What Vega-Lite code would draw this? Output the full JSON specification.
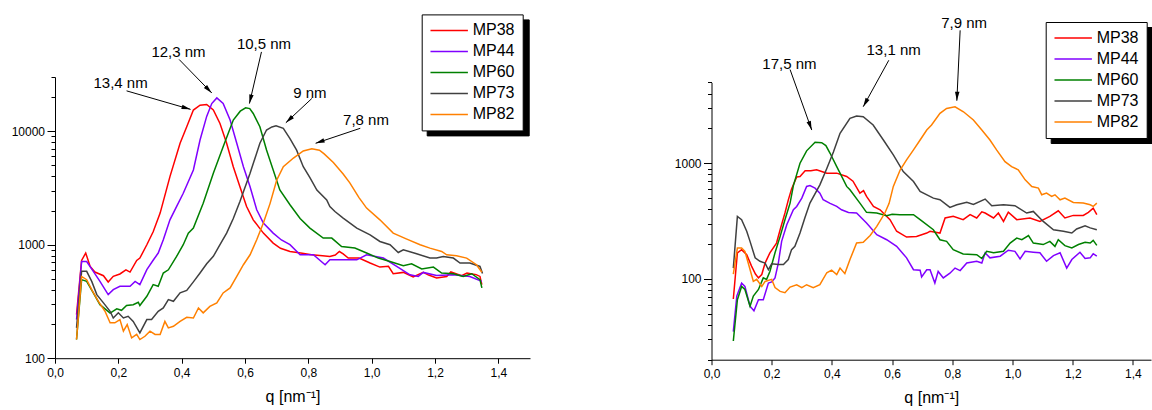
{
  "$schema": "https://vega.github.io/schema/vega-lite/v6.json",
  "background": "white",
  "padding": {"left": 11, "top": 13, "right": 0, "bottom": 0},
  "bounds": "flush",
  "spacing": 181.5,
  "config": {
    "font": "Liberation Sans",
    "view": {"stroke": null},
    "axis": {"domainColor": "black", "tickColor": "black", "labelColor": "black", "titleColor": "black", "grid": false, "labelFont": "Liberation Sans", "titleFont": "Liberation Sans", "labelFontSize": 12, "titleFontSize": 16, "titleFontWeight": "normal"},
    "legend": {"labelFont": "Liberation Sans"}
  },
  "resolve": {"scale": {"x": "independent", "y": "independent", "color": "independent", "opacity": "independent"}, "legend": {"color": "independent", "opacity": "independent"}},
  "datasets": {
    "L": [
      {"s":"MP38","q":0.068,"I":242},{"s":"MP38","q":0.084,"I":727},{"s":"MP38","q":0.097,"I":844},{"s":"MP38","q":0.111,"I":643},{"s":"MP38","q":0.126,"I":574},{"s":"MP38","q":0.153,"I":533},{"s":"MP38","q":0.168,"I":469},{"s":"MP38","q":0.184,"I":526},{"s":"MP38","q":0.205,"I":552},{"s":"MP38","q":0.224,"I":601},{"s":"MP38","q":0.237,"I":574},{"s":"MP38","q":0.258,"I":727},{"s":"MP38","q":0.268,"I":762},{"s":"MP38","q":0.29,"I":998},{"s":"MP38","q":0.31,"I":1300},{"s":"MP38","q":0.332,"I":1897},{"s":"MP38","q":0.363,"I":3980},{"s":"MP38","q":0.395,"I":7820},{"s":"MP38","q":0.416,"I":10940},{"s":"MP38","q":0.437,"I":15350},{"s":"MP38","q":0.458,"I":16950},{"s":"MP38","q":0.479,"I":17180},{"s":"MP38","q":0.5,"I":15350},{"s":"MP38","q":0.521,"I":11690},{"s":"MP38","q":0.542,"I":7820},{"s":"MP38","q":0.563,"I":4860},{"s":"MP38","q":0.584,"I":3240},{"s":"MP38","q":0.605,"I":2170},{"s":"MP38","q":0.626,"I":1655},{"s":"MP38","q":0.658,"I":1265},{"s":"MP38","q":0.689,"I":1033},{"s":"MP38","q":0.712,"I":930},{"s":"MP38","q":0.742,"I":871},{"s":"MP38","q":0.776,"I":845},{"s":"MP38","q":0.81,"I":817},{"s":"MP38","q":0.845,"I":800},{"s":"MP38","q":0.868,"I":787},{"s":"MP38","q":0.885,"I":810},{"s":"MP38","q":0.898,"I":871},{"s":"MP38","q":0.91,"I":830},{"s":"MP38","q":0.926,"I":762},{"s":"MP38","q":0.96,"I":764},{"s":"MP38","q":0.995,"I":689},{"s":"MP38","q":1.026,"I":635},{"s":"MP38","q":1.053,"I":644},{"s":"MP38","q":1.068,"I":555},{"s":"MP38","q":1.1,"I":570},{"s":"MP38","q":1.131,"I":519},{"s":"MP38","q":1.163,"I":570},{"s":"MP38","q":1.18,"I":540},{"s":"MP38","q":1.205,"I":508},{"s":"MP38","q":1.237,"I":525},{"s":"MP38","q":1.25,"I":575},{"s":"MP38","q":1.284,"I":533},{"s":"MP38","q":1.301,"I":563},{"s":"MP38","q":1.33,"I":545},{"s":"MP38","q":1.342,"I":525},{"s":"MP38","q":1.348,"I":445},
      {"s":"MP44","q":0.068,"I":219},{"s":"MP44","q":0.084,"I":711},{"s":"MP44","q":0.1,"I":711},{"s":"MP44","q":0.121,"I":582},{"s":"MP44","q":0.142,"I":475},{"s":"MP44","q":0.168,"I":363},{"s":"MP44","q":0.184,"I":402},{"s":"MP44","q":0.205,"I":430},{"s":"MP44","q":0.237,"I":430},{"s":"MP44","q":0.253,"I":475},{"s":"MP44","q":0.268,"I":445},{"s":"MP44","q":0.29,"I":603},{"s":"MP44","q":0.311,"I":736},{"s":"MP44","q":0.326,"I":844},{"s":"MP44","q":0.342,"I":1104},{"s":"MP44","q":0.363,"I":1656},{"s":"MP44","q":0.385,"I":2200},{"s":"MP44","q":0.405,"I":2840},{"s":"MP44","q":0.437,"I":4550},{"s":"MP44","q":0.458,"I":8360},{"s":"MP44","q":0.479,"I":13500},{"s":"MP44","q":0.495,"I":17500},{"s":"MP44","q":0.511,"I":19630},{"s":"MP44","q":0.531,"I":17540},{"s":"MP44","q":0.553,"I":12530},{"s":"MP44","q":0.574,"I":7820},{"s":"MP44","q":0.595,"I":4860},{"s":"MP44","q":0.616,"I":3240},{"s":"MP44","q":0.637,"I":2030},{"s":"MP44","q":0.658,"I":1549},{"s":"MP44","q":0.689,"I":1265},{"s":"MP44","q":0.715,"I":1100},{"s":"MP44","q":0.742,"I":1000},{"s":"MP44","q":0.774,"I":815},{"s":"MP44","q":0.816,"I":815},{"s":"MP44","q":0.853,"I":666},{"s":"MP44","q":0.868,"I":736},{"s":"MP44","q":0.953,"I":736},{"s":"MP44","q":0.984,"I":815},{"s":"MP44","q":1.037,"I":762},{"s":"MP44","q":1.079,"I":643},{"s":"MP44","q":1.121,"I":543},{"s":"MP44","q":1.147,"I":525},{"s":"MP44","q":1.163,"I":570},{"s":"MP44","q":1.205,"I":536},{"s":"MP44","q":1.258,"I":543},{"s":"MP44","q":1.31,"I":525},{"s":"MP44","q":1.348,"I":475},
      {"s":"MP60","q":0.068,"I":146},{"s":"MP60","q":0.084,"I":492},{"s":"MP60","q":0.1,"I":475},{"s":"MP60","q":0.121,"I":376},{"s":"MP60","q":0.142,"I":296},{"s":"MP60","q":0.174,"I":250},{"s":"MP60","q":0.195,"I":272},{"s":"MP60","q":0.21,"I":264},{"s":"MP60","q":0.226,"I":291},{"s":"MP60","q":0.247,"I":296},{"s":"MP60","q":0.263,"I":311},{"s":"MP60","q":0.268,"I":291},{"s":"MP60","q":0.29,"I":351},{"s":"MP60","q":0.31,"I":445},{"s":"MP60","q":0.326,"I":430},{"s":"MP60","q":0.342,"I":563},{"s":"MP60","q":0.358,"I":601},{"s":"MP60","q":0.384,"I":788},{"s":"MP60","q":0.405,"I":1000},{"s":"MP60","q":0.421,"I":1265},{"s":"MP60","q":0.437,"I":1400},{"s":"MP60","q":0.468,"I":2320},{"s":"MP60","q":0.5,"I":4250},{"s":"MP60","q":0.531,"I":7300},{"s":"MP60","q":0.563,"I":12530},{"s":"MP60","q":0.585,"I":15000},{"s":"MP60","q":0.602,"I":16070},{"s":"MP60","q":0.615,"I":15800},{"s":"MP60","q":0.626,"I":14320},{"s":"MP60","q":0.647,"I":10940},{"s":"MP60","q":0.668,"I":6820},{"s":"MP60","q":0.689,"I":4550},{"s":"MP60","q":0.71,"I":3030},{"s":"MP60","q":0.742,"I":2250},{"s":"MP60","q":0.774,"I":1700},{"s":"MP60","q":0.805,"I":1400},{"s":"MP60","q":0.847,"I":1143},{"s":"MP60","q":0.874,"I":1143},{"s":"MP60","q":0.905,"I":964},{"s":"MP60","q":0.947,"I":933},{"s":"MP60","q":0.984,"I":844},{"s":"MP60","q":1.021,"I":762},{"s":"MP60","q":1.058,"I":711},{"s":"MP60","q":1.1,"I":653},{"s":"MP60","q":1.126,"I":679},{"s":"MP60","q":1.158,"I":611},{"s":"MP60","q":1.195,"I":635},{"s":"MP60","q":1.221,"I":563},{"s":"MP60","q":1.258,"I":555},{"s":"MP60","q":1.289,"I":525},{"s":"MP60","q":1.316,"I":555},{"s":"MP60","q":1.342,"I":492},{"s":"MP60","q":1.348,"I":416},
      {"s":"MP73","q":0.068,"I":185},{"s":"MP73","q":0.084,"I":582},{"s":"MP73","q":0.1,"I":582},{"s":"MP73","q":0.116,"I":475},{"s":"MP73","q":0.132,"I":363},{"s":"MP73","q":0.153,"I":307},{"s":"MP73","q":0.174,"I":259},{"s":"MP73","q":0.184,"I":226},{"s":"MP73","q":0.2,"I":251},{"s":"MP73","q":0.216,"I":226},{"s":"MP73","q":0.231,"I":234},{"s":"MP73","q":0.247,"I":211},{"s":"MP73","q":0.268,"I":167},{"s":"MP73","q":0.29,"I":219},{"s":"MP73","q":0.305,"I":219},{"s":"MP73","q":0.326,"I":259},{"s":"MP73","q":0.342,"I":277},{"s":"MP73","q":0.358,"I":328},{"s":"MP73","q":0.374,"I":317},{"s":"MP73","q":0.395,"I":376},{"s":"MP73","q":0.416,"I":395},{"s":"MP73","q":0.437,"I":470},{"s":"MP73","q":0.458,"I":563},{"s":"MP73","q":0.479,"I":680},{"s":"MP73","q":0.5,"I":790},{"s":"MP73","q":0.521,"I":1000},{"s":"MP73","q":0.542,"I":1265},{"s":"MP73","q":0.563,"I":1700},{"s":"MP73","q":0.584,"I":2400},{"s":"MP73","q":0.616,"I":4250},{"s":"MP73","q":0.647,"I":7820},{"s":"MP73","q":0.668,"I":10240},{"s":"MP73","q":0.685,"I":10900},{"s":"MP73","q":0.698,"I":11150},{"s":"MP73","q":0.721,"I":10590},{"s":"MP73","q":0.742,"I":8600},{"s":"MP73","q":0.763,"I":6800},{"s":"MP73","q":0.784,"I":4860},{"s":"MP73","q":0.805,"I":3900},{"s":"MP73","q":0.827,"I":3030},{"s":"MP73","q":0.858,"I":2480},{"s":"MP73","q":0.868,"I":2170},{"s":"MP73","q":0.884,"I":1960},{"s":"MP73","q":0.91,"I":1714},{"s":"MP73","q":0.953,"I":1400},{"s":"MP73","q":0.995,"I":1222},{"s":"MP73","q":1.026,"I":1067},{"s":"MP73","q":1.058,"I":998},{"s":"MP73","q":1.084,"I":853},{"s":"MP73","q":1.1,"I":902},{"s":"MP73","q":1.142,"I":832},{"s":"MP73","q":1.184,"I":762},{"s":"MP73","q":1.205,"I":762},{"s":"MP73","q":1.226,"I":788},{"s":"MP73","q":1.258,"I":762},{"s":"MP73","q":1.279,"I":689},{"s":"MP73","q":1.31,"I":689},{"s":"MP73","q":1.342,"I":643},{"s":"MP73","q":1.35,"I":556},
      {"s":"MP82","q":0.068,"I":146},{"s":"MP82","q":0.084,"I":525},{"s":"MP82","q":0.1,"I":492},{"s":"MP82","q":0.116,"I":402},{"s":"MP82","q":0.137,"I":317},{"s":"MP82","q":0.158,"I":259},{"s":"MP82","q":0.174,"I":205},{"s":"MP82","q":0.189,"I":205},{"s":"MP82","q":0.205,"I":219},{"s":"MP82","q":0.216,"I":173},{"s":"MP82","q":0.228,"I":198},{"s":"MP82","q":0.242,"I":151},{"s":"MP82","q":0.258,"I":162},{"s":"MP82","q":0.268,"I":146},{"s":"MP82","q":0.284,"I":156},{"s":"MP82","q":0.3,"I":173},{"s":"MP82","q":0.316,"I":162},{"s":"MP82","q":0.332,"I":162},{"s":"MP82","q":0.347,"I":211},{"s":"MP82","q":0.358,"I":185},{"s":"MP82","q":0.374,"I":191},{"s":"MP82","q":0.395,"I":211},{"s":"MP82","q":0.416,"I":229},{"s":"MP82","q":0.437,"I":226},{"s":"MP82","q":0.453,"I":277},{"s":"MP82","q":0.468,"I":251},{"s":"MP82","q":0.489,"I":286},{"s":"MP82","q":0.511,"I":307},{"s":"MP82","q":0.531,"I":376},{"s":"MP82","q":0.553,"I":416},{"s":"MP82","q":0.574,"I":525},{"s":"MP82","q":0.595,"I":666},{"s":"MP82","q":0.616,"I":815},{"s":"MP82","q":0.637,"I":1104},{"s":"MP82","q":0.658,"I":1549},{"s":"MP82","q":0.679,"I":2300},{"s":"MP82","q":0.7,"I":3700},{"s":"MP82","q":0.721,"I":4860},{"s":"MP82","q":0.753,"I":5800},{"s":"MP82","q":0.784,"I":6700},{"s":"MP82","q":0.811,"I":7000},{"s":"MP82","q":0.835,"I":6800},{"s":"MP82","q":0.85,"I":6300},{"s":"MP82","q":0.879,"I":5300},{"s":"MP82","q":0.91,"I":4200},{"s":"MP82","q":0.931,"I":3500},{"s":"MP82","q":0.96,"I":2600},{"s":"MP82","q":0.984,"I":2100},{"s":"MP82","q":1.026,"I":1655},{"s":"MP82","q":1.068,"I":1265},{"s":"MP82","q":1.111,"I":1120},{"s":"MP82","q":1.153,"I":998},{"s":"MP82","q":1.184,"I":933},{"s":"MP82","q":1.221,"I":871},{"s":"MP82","q":1.237,"I":815},{"s":"MP82","q":1.268,"I":798},{"s":"MP82","q":1.3,"I":762},{"s":"MP82","q":1.331,"I":666},{"s":"MP82","q":1.348,"I":571}
    ],
    "R": [
      {"s":"MP38","q":0.0725,"I":67},{"s":"MP38","q":0.086,"I":168},{"s":"MP38","q":0.1,"I":179},{"s":"MP38","q":0.117,"I":162},{"s":"MP38","q":0.133,"I":129},{"s":"MP38","q":0.146,"I":110},{"s":"MP38","q":0.156,"I":102},{"s":"MP38","q":0.167,"I":109},{"s":"MP38","q":0.178,"I":137},{"s":"MP38","q":0.194,"I":168},{"s":"MP38","q":0.216,"I":204},{"s":"MP38","q":0.228,"I":266},{"s":"MP38","q":0.244,"I":371},{"s":"MP38","q":0.255,"I":480},{"s":"MP38","q":0.266,"I":600},{"s":"MP38","q":0.283,"I":760},{"s":"MP38","q":0.294,"I":768},{"s":"MP38","q":0.311,"I":859},{"s":"MP38","q":0.33,"I":860},{"s":"MP38","q":0.349,"I":877},{"s":"MP38","q":0.366,"I":848},{"s":"MP38","q":0.383,"I":821},{"s":"MP38","q":0.416,"I":821},{"s":"MP38","q":0.449,"I":768},{"s":"MP38","q":0.47,"I":700},{"s":"MP38","q":0.493,"I":551},{"s":"MP38","q":0.505,"I":580},{"s":"MP38","q":0.515,"I":516},{"s":"MP38","q":0.538,"I":423},{"s":"MP38","q":0.56,"I":396},{"s":"MP38","q":0.593,"I":325},{"s":"MP38","q":0.615,"I":258},{"s":"MP38","q":0.648,"I":230},{"s":"MP38","q":0.681,"I":233},{"s":"MP38","q":0.715,"I":249},{"s":"MP38","q":0.726,"I":258},{"s":"MP38","q":0.759,"I":249},{"s":"MP38","q":0.776,"I":336},{"s":"MP38","q":0.803,"I":347},{"s":"MP38","q":0.836,"I":325},{"s":"MP38","q":0.859,"I":359},{"s":"MP38","q":0.881,"I":336},{"s":"MP38","q":0.898,"I":380},{"s":"MP38","q":0.909,"I":371},{"s":"MP38","q":0.937,"I":336},{"s":"MP38","q":0.953,"I":371},{"s":"MP38","q":0.97,"I":314},{"s":"MP38","q":0.986,"I":378},{"s":"MP38","q":1.014,"I":325},{"s":"MP38","q":1.058,"I":336},{"s":"MP38","q":1.091,"I":314},{"s":"MP38","q":1.124,"I":347},{"s":"MP38","q":1.152,"I":388},{"s":"MP38","q":1.174,"I":336},{"s":"MP38","q":1.202,"I":354},{"s":"MP38","q":1.235,"I":354},{"s":"MP38","q":1.252,"I":376},{"s":"MP38","q":1.268,"I":409},{"s":"MP38","q":1.28,"I":359},
      {"s":"MP44","q":0.0725,"I":35},{"s":"MP44","q":0.084,"I":71},{"s":"MP44","q":0.1,"I":92},{"s":"MP44","q":0.111,"I":86},{"s":"MP44","q":0.128,"I":58},{"s":"MP44","q":0.141,"I":53},{"s":"MP44","q":0.156,"I":66},{"s":"MP44","q":0.172,"I":66},{"s":"MP44","q":0.189,"I":92},{"s":"MP44","q":0.2,"I":94},{"s":"MP44","q":0.211,"I":102},{"s":"MP44","q":0.222,"I":137},{"s":"MP44","q":0.233,"I":211},{"s":"MP44","q":0.25,"I":294},{"s":"MP44","q":0.272,"I":396},{"s":"MP44","q":0.283,"I":423},{"s":"MP44","q":0.3,"I":499},{"s":"MP44","q":0.316,"I":630},{"s":"MP44","q":0.327,"I":640},{"s":"MP44","q":0.344,"I":609},{"s":"MP44","q":0.36,"I":551},{"s":"MP44","q":0.371,"I":483},{"s":"MP44","q":0.394,"I":450},{"s":"MP44","q":0.416,"I":423},{"s":"MP44","q":0.432,"I":396},{"s":"MP44","q":0.455,"I":375},{"s":"MP44","q":0.482,"I":371},{"s":"MP44","q":0.515,"I":304},{"s":"MP44","q":0.549,"I":241},{"s":"MP44","q":0.582,"I":218},{"s":"MP44","q":0.615,"I":191},{"s":"MP44","q":0.648,"I":152},{"s":"MP44","q":0.671,"I":120},{"s":"MP44","q":0.693,"I":119},{"s":"MP44","q":0.698,"I":104},{"s":"MP44","q":0.715,"I":120},{"s":"MP44","q":0.726,"I":120},{"s":"MP44","q":0.742,"I":92},{"s":"MP44","q":0.753,"I":116},{"s":"MP44","q":0.77,"I":102},{"s":"MP44","q":0.792,"I":112},{"s":"MP44","q":0.809,"I":124},{"s":"MP44","q":0.826,"I":118},{"s":"MP44","q":0.848,"I":137},{"s":"MP44","q":0.881,"I":142},{"s":"MP44","q":0.898,"I":137},{"s":"MP44","q":0.909,"I":168},{"s":"MP44","q":0.925,"I":152},{"s":"MP44","q":0.959,"I":157},{"s":"MP44","q":0.986,"I":177},{"s":"MP44","q":1.008,"I":173},{"s":"MP44","q":1.025,"I":149},{"s":"MP44","q":1.042,"I":173},{"s":"MP44","q":1.069,"I":170},{"s":"MP44","q":1.091,"I":168},{"s":"MP44","q":1.113,"I":142},{"s":"MP44","q":1.136,"I":159},{"s":"MP44","q":1.158,"I":168},{"s":"MP44","q":1.18,"I":124},{"s":"MP44","q":1.197,"I":147},{"s":"MP44","q":1.224,"I":170},{"s":"MP44","q":1.241,"I":150},{"s":"MP44","q":1.258,"I":152},{"s":"MP44","q":1.268,"I":165},{"s":"MP44","q":1.28,"I":157},
      {"s":"MP60","q":0.0725,"I":29},{"s":"MP60","q":0.086,"I":66},{"s":"MP60","q":0.1,"I":86},{"s":"MP60","q":0.111,"I":81},{"s":"MP60","q":0.128,"I":58},{"s":"MP60","q":0.139,"I":71},{"s":"MP60","q":0.156,"I":81},{"s":"MP60","q":0.172,"I":102},{"s":"MP60","q":0.183,"I":99},{"s":"MP60","q":0.194,"I":116},{"s":"MP60","q":0.211,"I":168},{"s":"MP60","q":0.228,"I":233},{"s":"MP60","q":0.244,"I":325},{"s":"MP60","q":0.261,"I":452},{"s":"MP60","q":0.272,"I":640},{"s":"MP60","q":0.294,"I":1000},{"s":"MP60","q":0.316,"I":1280},{"s":"MP60","q":0.344,"I":1520},{"s":"MP60","q":0.366,"I":1507},{"s":"MP60","q":0.38,"I":1420},{"s":"MP60","q":0.394,"I":1219},{"s":"MP60","q":0.416,"I":935},{"s":"MP60","q":0.427,"I":820},{"s":"MP60","q":0.449,"I":630},{"s":"MP60","q":0.46,"I":589},{"s":"MP60","q":0.493,"I":452},{"s":"MP60","q":0.515,"I":376},{"s":"MP60","q":0.549,"I":371},{"s":"MP60","q":0.582,"I":352},{"s":"MP60","q":0.6,"I":362},{"s":"MP60","q":0.626,"I":359},{"s":"MP60","q":0.671,"I":359},{"s":"MP60","q":0.693,"I":325},{"s":"MP60","q":0.737,"I":266},{"s":"MP60","q":0.759,"I":218},{"s":"MP60","q":0.781,"I":211},{"s":"MP60","q":0.803,"I":179},{"s":"MP60","q":0.836,"I":164},{"s":"MP60","q":0.881,"I":162},{"s":"MP60","q":0.898,"I":150},{"s":"MP60","q":0.914,"I":173},{"s":"MP60","q":0.937,"I":168},{"s":"MP60","q":0.97,"I":173},{"s":"MP60","q":0.992,"I":204},{"s":"MP60","q":1.014,"I":225},{"s":"MP60","q":1.031,"I":218},{"s":"MP60","q":1.053,"I":237},{"s":"MP60","q":1.069,"I":204},{"s":"MP60","q":1.102,"I":198},{"s":"MP60","q":1.124,"I":211},{"s":"MP60","q":1.141,"I":191},{"s":"MP60","q":1.152,"I":218},{"s":"MP60","q":1.174,"I":194},{"s":"MP60","q":1.197,"I":185},{"s":"MP60","q":1.219,"I":198},{"s":"MP60","q":1.241,"I":207},{"s":"MP60","q":1.258,"I":204},{"s":"MP60","q":1.268,"I":215},{"s":"MP60","q":1.28,"I":195},
      {"s":"MP73","q":0.0725,"I":124},{"s":"MP73","q":0.086,"I":347},{"s":"MP73","q":0.1,"I":325},{"s":"MP73","q":0.117,"I":258},{"s":"MP73","q":0.128,"I":211},{"s":"MP73","q":0.145,"I":152},{"s":"MP73","q":0.161,"I":142},{"s":"MP73","q":0.178,"I":137},{"s":"MP73","q":0.189,"I":120},{"s":"MP73","q":0.2,"I":135},{"s":"MP73","q":0.222,"I":133},{"s":"MP73","q":0.239,"I":133},{"s":"MP73","q":0.255,"I":147},{"s":"MP73","q":0.266,"I":179},{"s":"MP73","q":0.277,"I":191},{"s":"MP73","q":0.294,"I":249},{"s":"MP73","q":0.31,"I":336},{"s":"MP73","q":0.327,"I":452},{"s":"MP73","q":0.36,"I":650},{"s":"MP73","q":0.383,"I":900},{"s":"MP73","q":0.405,"I":1250},{"s":"MP73","q":0.427,"I":1815},{"s":"MP73","q":0.46,"I":2445},{"s":"MP73","q":0.482,"I":2560},{"s":"MP73","q":0.504,"I":2525},{"s":"MP73","q":0.537,"I":2140},{"s":"MP73","q":0.571,"I":1588},{"s":"MP73","q":0.604,"I":1180},{"s":"MP73","q":0.637,"I":847},{"s":"MP73","q":0.671,"I":695},{"s":"MP73","q":0.693,"I":570},{"s":"MP73","q":0.737,"I":499},{"s":"MP73","q":0.759,"I":483},{"s":"MP73","q":0.792,"I":415},{"s":"MP73","q":0.815,"I":437},{"s":"MP73","q":0.848,"I":460},{"s":"MP73","q":0.87,"I":441},{"s":"MP73","q":0.909,"I":490},{"s":"MP73","q":0.931,"I":429},{"s":"MP73","q":0.97,"I":437},{"s":"MP73","q":1.008,"I":429},{"s":"MP73","q":1.047,"I":371},{"s":"MP73","q":1.069,"I":383},{"s":"MP73","q":1.102,"I":314},{"s":"MP73","q":1.136,"I":266},{"s":"MP73","q":1.169,"I":258},{"s":"MP73","q":1.197,"I":249},{"s":"MP73","q":1.213,"I":270},{"s":"MP73","q":1.241,"I":288},{"s":"MP73","q":1.258,"I":276},{"s":"MP73","q":1.28,"I":266},
      {"s":"MP82","q":0.0725,"I":110},{"s":"MP82","q":0.086,"I":185},{"s":"MP82","q":0.1,"I":185},{"s":"MP82","q":0.111,"I":173},{"s":"MP82","q":0.122,"I":137},{"s":"MP82","q":0.139,"I":95},{"s":"MP82","q":0.15,"I":99},{"s":"MP82","q":0.167,"I":86},{"s":"MP82","q":0.178,"I":95},{"s":"MP82","q":0.2,"I":99},{"s":"MP82","q":0.211,"I":84},{"s":"MP82","q":0.228,"I":78},{"s":"MP82","q":0.244,"I":76},{"s":"MP82","q":0.261,"I":85},{"s":"MP82","q":0.283,"I":89},{"s":"MP82","q":0.3,"I":84},{"s":"MP82","q":0.316,"I":89},{"s":"MP82","q":0.338,"I":84},{"s":"MP82","q":0.36,"I":89},{"s":"MP82","q":0.383,"I":113},{"s":"MP82","q":0.399,"I":119},{"s":"MP82","q":0.416,"I":109},{"s":"MP82","q":0.427,"I":124},{"s":"MP82","q":0.443,"I":111},{"s":"MP82","q":0.46,"I":147},{"s":"MP82","q":0.482,"I":204},{"s":"MP82","q":0.504,"I":207},{"s":"MP82","q":0.527,"I":237},{"s":"MP82","q":0.549,"I":284},{"s":"MP82","q":0.576,"I":371},{"s":"MP82","q":0.59,"I":450},{"s":"MP82","q":0.604,"I":630},{"s":"MP82","q":0.627,"I":877},{"s":"MP82","q":0.648,"I":1069},{"s":"MP82","q":0.671,"I":1303},{"s":"MP82","q":0.693,"I":1589},{"s":"MP82","q":0.715,"I":1936},{"s":"MP82","q":0.731,"I":2140},{"s":"MP82","q":0.759,"I":2697},{"s":"MP82","q":0.781,"I":2980},{"s":"MP82","q":0.809,"I":3080},{"s":"MP82","q":0.837,"I":2787},{"s":"MP82","q":0.87,"I":2366},{"s":"MP82","q":0.898,"I":1936},{"s":"MP82","q":0.925,"I":1589},{"s":"MP82","q":0.947,"I":1303},{"s":"MP82","q":0.975,"I":1033},{"s":"MP82","q":0.997,"I":935},{"s":"MP82","q":1.019,"I":877},{"s":"MP82","q":1.042,"I":718},{"s":"MP82","q":1.064,"I":629},{"s":"MP82","q":1.086,"I":609},{"s":"MP82","q":1.097,"I":533},{"s":"MP82","q":1.113,"I":551},{"s":"MP82","q":1.13,"I":516},{"s":"MP82","q":1.141,"I":533},{"s":"MP82","q":1.158,"I":483},{"s":"MP82","q":1.174,"I":499},{"s":"MP82","q":1.202,"I":458},{"s":"MP82","q":1.235,"I":452},{"s":"MP82","q":1.258,"I":437},{"s":"MP82","q":1.268,"I":423},{"s":"MP82","q":1.28,"I":452}
    ],
    "AL": [
      {"t":"13,4 nm","tq":0.207,"ti":26300,"q1":0.226,"i1":22650,"q2":0.428,"i2":15560},
      {"t":"12,3 nm","tq":0.39,"ti":50000,"q1":0.392,"i1":42800,"q2":0.495,"i2":21700},
      {"t":"10,5 nm","tq":0.66,"ti":59000,"q1":0.652,"i1":49900,"q2":0.614,"i2":17500},
      {"t":"9 nm","tq":0.805,"ti":21900,"q1":0.811,"i1":19400,"q2":0.729,"i2":11860},
      {"t":"7,8 nm","tq":0.982,"ti":12530,"q1":0.964,"i1":10600,"q2":0.823,"i2":7820}
    ],
    "AR": [
      {"t":"17,5 nm","tq":0.259,"ti":7280,"q1":0.261,"i1":6460,"q2":0.333,"i2":1936},
      {"t":"13,1 nm","tq":0.605,"ti":9620,"q1":0.589,"i1":7770,"q2":0.504,"i2":3080},
      {"t":"7,9 nm","tq":0.839,"ti":16400,"q1":0.826,"i1":14100,"q2":0.815,"i2":3470}
    ]
  },
  "hconcat": [
    {
      "width": 475,
      "height": 281.2,
      "layer": [
        {
          "data": {"name": "L"},
          "mark": {"type": "line", "strokeWidth": 1.5},
          "encoding": {
            "x": {"field": "q", "type": "quantitative", "title": "q [nm⁻¹]",
                  "scale": {"domain": [0, 1.5], "nice": false, "zero": false},
                  "axis": {"values": [0,0.1,0.2,0.3,0.4,0.5,0.6,0.7,0.8,0.9,1.0,1.1,1.2,1.3,1.4,1.5],
                           "labelExpr": "round(datum.value*10) % 2 == 0 ? replace(format(datum.value, '.1f'), '.', ',') : ''",
                           "tickSize": 5, "labelPadding": 4, "labelFlush": false, "labelOverlap": false, "titlePadding": 10}},
            "y": {"field": "I", "type": "quantitative", "title": null,
                  "scale": {"type": "log", "domain": [100, 30000], "nice": false},
                  "axis": {"values": [100,200,300,400,500,600,700,800,900,1000,2000,3000,4000,5000,6000,7000,8000,9000,10000,20000,30000],
                           "labelExpr": "abs(log(datum.value)/LN10 - round(log(datum.value)/LN10)) < 0.001 ? format(datum.value, 'd') : ''",
                           "tickSize": {"condition": {"test": "abs(log(datum.value)/LN10 - round(log(datum.value)/LN10)) < 0.001", "value": 8}, "value": 4},
                           "labelPadding": 2.5, "labelOverlap": false, "labelBound": false}},
            "color": {"field": "s", "type": "nominal",
                      "scale": {"domain": ["MP38","MP44","MP60","MP73","MP82"], "range": ["#ff0000","#8000ff","#008000","#404040","#ff8000"]},
                      "legend": {"orient": "none", "legendX": 366.7, "legendY": -62.6, "zindex": 3, "title": null, "symbolType": "stroke", "symbolSize": 1400, "symbolStrokeWidth": 1.5, "clipHeight": 16, "labelFontSize": 16, "labelColor": "black", "fillColor": "white", "strokeColor": "black", "padding": 8, "rowPadding": 5, "labelOffset": 4}},
            "opacity": {"field": "s", "type": "nominal",
                        "scale": {"domain": ["MP82","MP73","MP60","MP44","MP38"], "range": [1,1,1,1,1]},
                        "legend": {"orient": "none", "legendX": 371.7, "legendY": -57.6, "zindex": 2, "title": null, "labelExpr": "''", "symbolType": "stroke", "symbolSize": 7056, "symbolStrokeWidth": 1.5, "symbolStrokeColor": "black", "clipHeight": 16, "labelFontSize": 16, "fillColor": "black", "strokeColor": "black", "padding": 8, "rowPadding": 5, "labelOffset": 0}}
          }
        },
        {
          "data": {"name": "AL"},
          "mark": {"type": "rule", "color": "black", "strokeWidth": 1},
          "encoding": {
            "x": {"field": "q1", "type": "quantitative", "title": "q [nm⁻¹]", "scale": {"domain": [0, 1.5], "nice": false, "zero": false}},
            "x2": {"field": "q2"},
            "y": {"field": "i1", "type": "quantitative", "title": null, "scale": {"type": "log", "domain": [100, 30000], "nice": false}},
            "y2": {"field": "i2"}
          }
        },
        {
          "data": {"name": "AL"},
          "mark": {"type": "point", "shape": "M0,0L-0.5,2L0.5,2Z", "filled": true, "color": "black", "opacity": 1, "size": 81, "strokeWidth": 0,
                   "angle": {"expr": "atan2(scale('concat_0_x', datum.q2) - scale('concat_0_x', datum.q1), scale('concat_0_y', datum.i1) - scale('concat_0_y', datum.i2)) * 180 / PI"}},
          "encoding": {
            "x": {"field": "q2", "type": "quantitative", "title": "q [nm⁻¹]", "scale": {"domain": [0, 1.5], "nice": false, "zero": false}},
            "y": {"field": "i2", "type": "quantitative", "title": null, "scale": {"type": "log", "domain": [100, 30000], "nice": false}}
          }
        },
        {
          "data": {"name": "AL"},
          "mark": {"type": "text", "fontSize": 15, "font": "Liberation Sans", "color": "black", "align": "center", "baseline": "middle"},
          "encoding": {
            "x": {"field": "tq", "type": "quantitative", "title": "q [nm⁻¹]", "scale": {"domain": [0, 1.5], "nice": false, "zero": false}},
            "y": {"field": "ti", "type": "quantitative", "title": null, "scale": {"type": "log", "domain": [100, 30000], "nice": false}},
            "text": {"field": "t"}
          }
        }
      ]
    },
    {
      "width": 439.5,
      "height": 282.7,
      "layer": [
        {
          "data": {"name": "R"},
          "mark": {"type": "line", "strokeWidth": 1.5},
          "encoding": {
            "x": {"field": "q", "type": "quantitative", "title": "q [nm⁻¹]",
                  "scale": {"domain": [0, 1.46], "nice": false, "zero": false},
                  "axis": {"values": [0,0.1,0.2,0.3,0.4,0.5,0.6,0.7,0.8,0.9,1.0,1.1,1.2,1.3,1.4],
                           "labelExpr": "round(datum.value*10) % 2 == 0 ? replace(format(datum.value, '.1f'), '.', ',') : ''",
                           "tickSize": 5, "labelPadding": 4, "labelFlush": false, "labelOverlap": false, "titlePadding": 10}},
            "y": {"field": "I", "type": "quantitative", "title": null,
                  "scale": {"type": "log", "domain": [20, 5000], "nice": false, "range": [282.7, 5.4]},
                  "axis": {"values": [20,30,40,50,60,70,80,90,100,200,300,400,500,600,700,800,900,1000,2000,3000,4000,5000],
                           "labelExpr": "abs(log(datum.value)/LN10 - round(log(datum.value)/LN10)) < 0.001 ? format(datum.value, 'd') : ''",
                           "tickSize": {"condition": {"test": "abs(log(datum.value)/LN10 - round(log(datum.value)/LN10)) < 0.001", "value": 8}, "value": 4},
                           "labelPadding": 2.5, "labelOverlap": false, "labelBound": false}},
            "color": {"field": "s", "type": "nominal",
                      "scale": {"domain": ["MP38","MP44","MP60","MP73","MP82"], "range": ["#ff0000","#8000ff","#008000","#404040","#ff8000"]},
                      "legend": {"orient": "none", "legendX": 334.2, "legendY": -55, "zindex": 3, "title": null, "symbolType": "stroke", "symbolSize": 1400, "symbolStrokeWidth": 1.5, "clipHeight": 16, "labelFontSize": 16, "labelColor": "black", "fillColor": "white", "strokeColor": "black", "padding": 8, "rowPadding": 5, "labelOffset": 4}},
            "opacity": {"field": "s", "type": "nominal",
                        "scale": {"domain": ["MP82","MP73","MP60","MP44","MP38"], "range": [1,1,1,1,1]},
                        "legend": {"orient": "none", "legendX": 339.2, "legendY": -50, "zindex": 2, "title": null, "labelExpr": "''", "symbolType": "stroke", "symbolSize": 7056, "symbolStrokeWidth": 1.5, "symbolStrokeColor": "black", "clipHeight": 16, "labelFontSize": 16, "fillColor": "black", "strokeColor": "black", "padding": 8, "rowPadding": 5, "labelOffset": 0}}
          }
        },
        {
          "data": {"name": "AR"},
          "mark": {"type": "rule", "color": "black", "strokeWidth": 1},
          "encoding": {
            "x": {"field": "q1", "type": "quantitative", "title": "q [nm⁻¹]", "scale": {"domain": [0, 1.46], "nice": false, "zero": false}},
            "x2": {"field": "q2"},
            "y": {"field": "i1", "type": "quantitative", "title": null, "scale": {"type": "log", "domain": [20, 5000], "nice": false, "range": [282.7, 5.4]}},
            "y2": {"field": "i2"}
          }
        },
        {
          "data": {"name": "AR"},
          "mark": {"type": "point", "shape": "M0,0L-0.5,2L0.5,2Z", "filled": true, "color": "black", "opacity": 1, "size": 81, "strokeWidth": 0,
                   "angle": {"expr": "atan2(scale('concat_1_x', datum.q2) - scale('concat_1_x', datum.q1), scale('concat_1_y', datum.i1) - scale('concat_1_y', datum.i2)) * 180 / PI"}},
          "encoding": {
            "x": {"field": "q2", "type": "quantitative", "title": "q [nm⁻¹]", "scale": {"domain": [0, 1.46], "nice": false, "zero": false}},
            "y": {"field": "i2", "type": "quantitative", "title": null, "scale": {"type": "log", "domain": [20, 5000], "nice": false, "range": [282.7, 5.4]}}
          }
        },
        {
          "data": {"name": "AR"},
          "mark": {"type": "text", "fontSize": 15, "font": "Liberation Sans", "color": "black", "align": "center", "baseline": "middle"},
          "encoding": {
            "x": {"field": "tq", "type": "quantitative", "title": "q [nm⁻¹]", "scale": {"domain": [0, 1.46], "nice": false, "zero": false}},
            "y": {"field": "ti", "type": "quantitative", "title": null, "scale": {"type": "log", "domain": [20, 5000], "nice": false, "range": [282.7, 5.4]}},
            "text": {"field": "t"}
          }
        }
      ]
    }
  ]
}
